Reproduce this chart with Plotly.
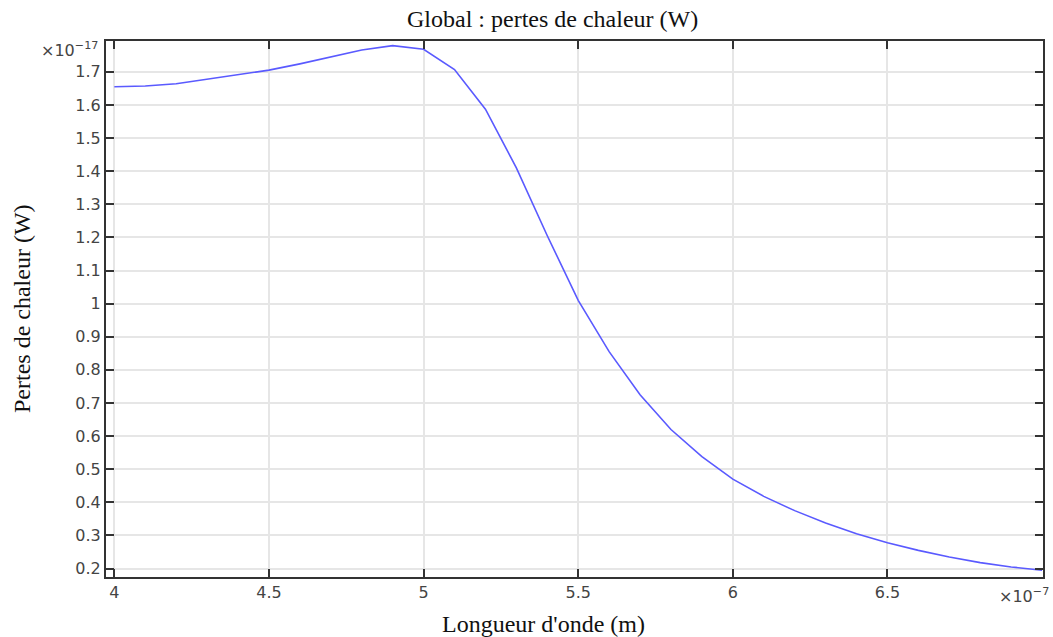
import plotly.graph_objects as go

# wavelength (x 1e-7 m)
wavelength = [4.0, 4.1, 4.2, 4.3, 4.4, 4.5, 4.6, 4.7, 4.8, 4.9, 5.0,
              5.1, 5.2, 5.3, 5.4, 5.5, 5.6, 5.7, 5.8, 5.9, 6.0,
              6.1, 6.2, 6.3, 6.4, 6.5, 6.6, 6.7, 6.8, 6.9, 7.0]
# heat losses (x 1e-17 W)
losses = [1.655, 1.657, 1.664, 1.677, 1.690, 1.705, 1.724, 1.745, 1.766, 1.779, 1.768,
          1.707, 1.587, 1.410, 1.205, 1.010, 0.855, 0.725, 0.620, 0.538, 0.470,
          0.418, 0.375, 0.338, 0.305, 0.278, 0.255, 0.235, 0.218, 0.205, 0.195]

x_ticks = [4, 4.5, 5, 5.5, 6, 6.5]
x_ticklabels = ["4", "4.5", "5", "5.5", "6", "6.5"]
y_ticks = [0.2, 0.3, 0.4, 0.5, 0.6, 0.7, 0.8, 0.9, 1.0, 1.1, 1.2, 1.3, 1.4, 1.5, 1.6, 1.7]
y_ticklabels = ["0.2", "0.3", "0.4", "0.5", "0.6", "0.7", "0.8", "0.9", "1",
                "1.1", "1.2", "1.3", "1.4", "1.5", "1.6", "1.7"]

title_text = "Global : pertes de chaleur (W)"
x_title = "Longueur d'onde (m)"
y_title = "Pertes de chaleur (W)"

fig = go.Figure()
fig.add_trace(go.Scatter(x=wavelength, y=losses, mode="lines",
                         line=dict(color="rgb(90,90,255)", width=1.6),
                         showlegend=False, hoverinfo="skip"))

tickfont = dict(family="DejaVu Sans", size=16, color="#444")
serif = dict(family="Liberation Serif", size=24, color="#111")

fig.update_xaxes(range=[3.973, 7.003], tickvals=x_ticks, ticktext=x_ticklabels,
                 showgrid=True, gridcolor="#e6e6e6", gridwidth=1.5,
                 showline=True, linecolor="#333", linewidth=2, mirror="ticks",
                 ticks="inside", ticklen=8, tickwidth=2, tickcolor="#333",
                 tickfont=tickfont, zeroline=False)
fig.update_yaxes(range=[0.1746, 1.793], tickvals=y_ticks, ticktext=y_ticklabels,
                 showgrid=True, gridcolor="#e6e6e6", gridwidth=1.5,
                 showline=True, linecolor="#333", linewidth=2, mirror="ticks",
                 ticks="inside", ticklen=8, tickwidth=2, tickcolor="#333",
                 tickfont=tickfont, zeroline=False)

fig.update_layout(
    width=1053, height=637,
    margin=dict(l=106, r=8, t=41, b=60),
    plot_bgcolor="white", paper_bgcolor="white",
    annotations=[
        dict(text=title_text, xref="paper", yref="paper", x=0.476, y=1.0,
             xanchor="center", yanchor="bottom", yshift=7, showarrow=False, font=serif),
        dict(text=x_title, xref="paper", yref="paper", x=0.467, y=0,
             xanchor="center", yanchor="top", yshift=-32, showarrow=False, font=serif),
        dict(text=y_title, xref="paper", yref="paper", x=0, y=0.5, textangle=-90,
             xanchor="center", yanchor="middle", xshift=-84, showarrow=False, font=serif),
        dict(text="×10<sup>−17</sup>", xref="paper", yref="paper", x=0, y=1.0,
             xanchor="right", yanchor="middle", xshift=-6, yshift=-8, showarrow=False,
             font=tickfont),
        dict(text="×10<sup>−7</sup>", xref="paper", yref="paper", x=1.0, y=0,
             xanchor="right", yanchor="top", xshift=8, yshift=-6, showarrow=False,
             font=tickfont),
    ],
)

fig.write_html("out.html")
